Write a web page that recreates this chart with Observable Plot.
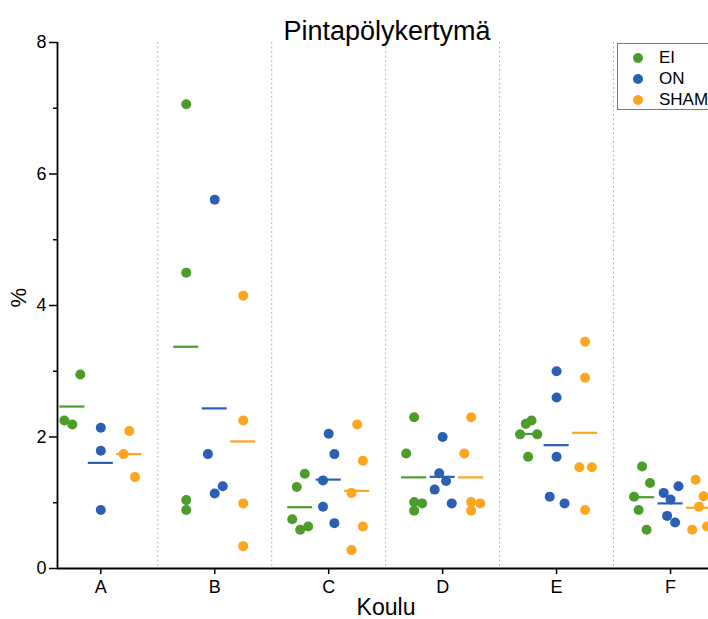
<!DOCTYPE html>
<html>
<head>
<meta charset="utf-8">
<script src="https://cdn.jsdelivr.net/npm/d3@7"></script>
<script src="https://cdn.jsdelivr.net/npm/@observablehq/plot@0.6"></script>
<style>
  html, body { margin: 0; padding: 0; background: #fff; overflow: hidden; }
  #wrap { position: relative; width: 708px; height: 619px; overflow: hidden; font-family: "Liberation Sans", Arial, sans-serif; }
  #legend { position: absolute; left: 617px; top: 43px; width: 110px; height: 67px; border: 1px solid #777; background: #fff; box-sizing: border-box; }
  .item { position: absolute; left: 0; height: 20px; font-size: 17px; line-height: 20px; color: #000; }
  .item span.dot { position: absolute; left: 15px; top: 5px; width: 10px; height: 10px; border-radius: 50%; }
  .item span.lab { position: absolute; left: 41px; top: 0; white-space: nowrap; }
</style>
</head>
<body>
<div id="wrap"></div>
<script>
const title = "Pintapölykertymä";
const xLabel = "Koulu";
const yLabel = "%";
const schools = ["A", "B", "C", "D", "E", "F"];
const groups = ["EI", "ON", "SHAM"];
const colors = ["#4c9c2c", "#2b5fb3", "#fda51e"];
const groupOffset = [-0.25, 0, 0.25];
const yTicks = [0, 2, 4, 6, 8];
const yMinorTicks = [1, 3, 5, 7];

// values per school, per group; jitter = horizontal offset inside the group (category units)
const EI_values = [
  [2.95, 2.25, 2.19],
  [7.06, 4.50, 1.04, 0.89],
  [1.44, 1.24, 0.75, 0.59, 0.64],
  [2.30, 1.75, 1.01, 0.99, 0.88],
  [2.25, 2.20, 2.04, 2.04, 1.70],
  [1.55, 1.30, 1.09, 0.89, 0.59]
];
const EI_jitter = [
  [0.07, -0.07, 0],
  [0, 0, 0, 0],
  [0.04, -0.03, -0.07, 0, 0.07],
  [0, -0.07, 0, 0.07, 0],
  [0.03, -0.02, -0.07, 0.08, 0],
  [0, 0.07, -0.07, -0.03, 0.04]
];
const ON_values = [
  [2.14, 1.79, 0.89],
  [5.61, 1.74, 1.14, 1.25],
  [2.05, 1.74, 1.34, 0.94, 0.69],
  [2.00, 1.45, 1.33, 1.20, 0.99],
  [3.00, 2.60, 1.70, 1.09, 0.99],
  [1.25, 1.15, 1.05, 0.80, 0.70]
];
const ON_jitter = [
  [0, 0, 0],
  [0, -0.06, 0, 0.07],
  [0, 0.05, -0.05, -0.05, 0.05],
  [0, -0.03, 0.03, -0.07, 0.08],
  [0, 0, 0, -0.06, 0.07],
  [0.07, -0.06, 0, -0.03, 0.04]
];
const SHAM_values = [
  [2.09, 1.74, 1.39],
  [4.15, 2.25, 0.99, 0.34],
  [2.19, 1.64, 1.15, 0.64, 0.28],
  [2.30, 1.75, 1.01, 0.99, 0.88],
  [3.45, 2.90, 1.54, 1.54, 0.89],
  [1.35, 1.10, 0.94, 0.59, 0.64]
];
const SHAM_jitter = [
  [0, -0.05, 0.05],
  [0, 0, 0, 0],
  [0, 0.05, -0.05, 0.05, -0.05],
  [0, -0.06, 0, 0.08, 0],
  [0, 0, -0.05, 0.06, 0],
  [-0.03, 0.04, 0, -0.06, 0.07]
];

const valueSets = [EI_values, ON_values, SHAM_values];
const jitterSets = [EI_jitter, ON_jitter, SHAM_jitter];

const points = [];
const means = [];
groups.forEach((g, gi) => {
  schools.forEach((s, si) => {
    const vals = valueSets[gi][si];
    vals.forEach((v, k) => {
      points.push({school: s, si, group: g, gi, value: v, jitter: jitterSets[gi][si][k]});
    });
    means.push({school: s, si, group: g, gi, mean: d3.mean(vals)});
  });
});

const xDomain = [-0.38, 5.5];
const halfLine = 0.11;

const chart = Plot.plot({
  width: 708,
  height: 619,
  marginTop: 42,
  marginBottom: 51,
  marginLeft: 57,
  marginRight: 0,
  style: {fontFamily: "Liberation Sans, Arial, sans-serif", fontSize: "18px", color: "#000", background: "#fff"},
  x: {type: "linear", domain: xDomain, range: [57, 727], axis: null},
  y: {domain: [0, 8], range: [568, 42], axis: null},
  color: {domain: groups, range: colors},
  marks: [
    Plot.ruleX(d3.range(0.5, schools.length - 1, 1), {stroke: "#b5b5b5", strokeDasharray: "2,2.5", strokeWidth: 1}),
    Plot.axisY({ticks: yTicks, tickSize: 8, tickPadding: 3, fontSize: 18, label: null, stroke: "#000", strokeWidth: 1.5}),
    Plot.axisY({ticks: yMinorTicks, tickSize: 4, text: null, label: null, stroke: "#000", strokeWidth: 1.5}),
    Plot.axisX({ticks: d3.range(schools.length), tickFormat: i => schools[i], tickSize: 6, tickPadding: 6, fontSize: 18, label: null, stroke: "#000", strokeWidth: 1.5}),
    Plot.ruleX([xDomain[0]], {y1: 0, y2: 8, stroke: "#000", strokeWidth: 1.8}),
    Plot.ruleY([0], {stroke: "#000", strokeWidth: 1.8}),
    Plot.dot(points, {x: d => d.si + groupOffset[d.gi] + d.jitter, y: "value", fill: "group", r: 5}),
    Plot.ruleY(means, {y: "mean", x1: d => d.si + groupOffset[d.gi] - halfLine, x2: d => d.si + groupOffset[d.gi] + halfLine, stroke: "group", strokeWidth: 2.2}),
    Plot.text([title], {frameAnchor: "top", dy: -22, dx: 4, fontSize: 27, fill: "#000"}),
    Plot.text([xLabel], {frameAnchor: "bottom", dy: 46, dx: 3, fontSize: 23, fill: "#000"}),
    Plot.text([yLabel], {frameAnchor: "left", dx: -39, dy: 2, rotate: -90, fontSize: 22, fill: "#000"})
  ]
});

const wrap = document.getElementById("wrap");
wrap.appendChild(chart);

const legend = document.createElement("div");
legend.id = "legend";
groups.forEach((g, i) => {
  const item = document.createElement("div");
  item.className = "item";
  item.style.top = (4 + i * 21) + "px";
  item.innerHTML = `<span class="dot" style="background:${colors[i]}"></span><span class="lab">${g}</span>`;
  legend.appendChild(item);
});
wrap.appendChild(legend);
</script>
</body>
</html>
